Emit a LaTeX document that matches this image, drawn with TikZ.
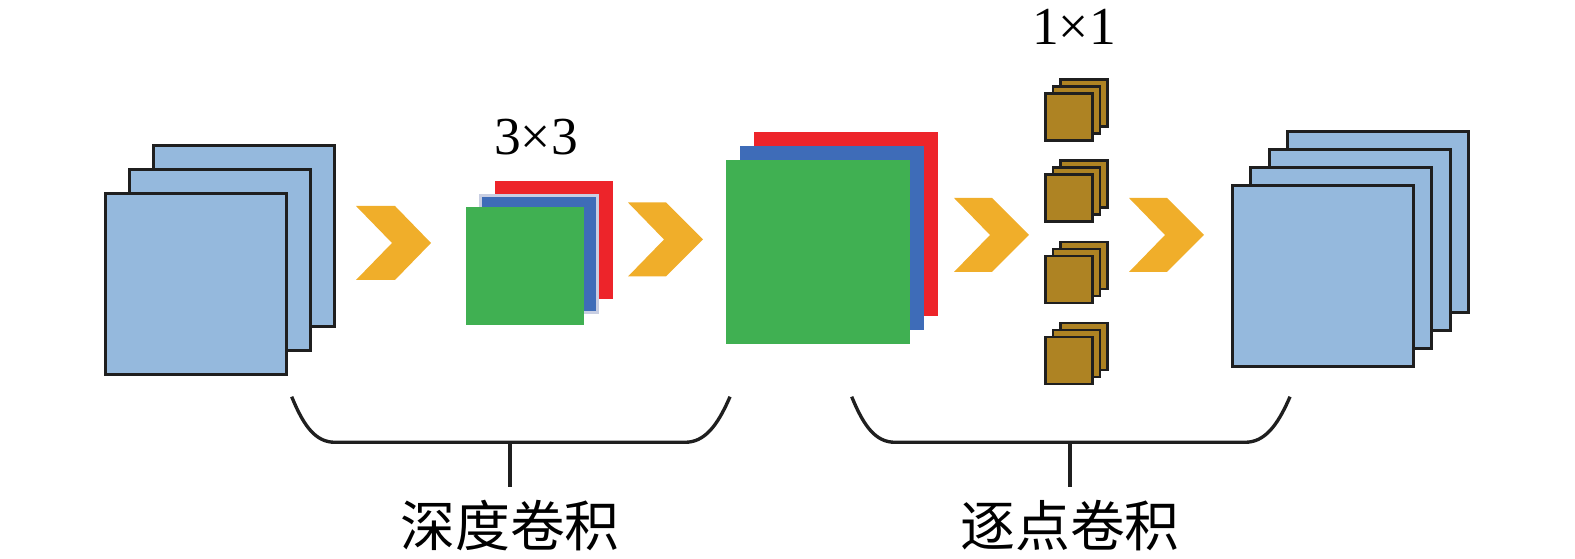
\documentclass[tikz,border=0pt]{standalone}
\usepackage{fontspec}
\setmainfont{Liberation Serif}
\newfontfamily\cjk{Noto Sans CJK SC}
\usepackage{tikz}
\definecolor{mapblue}{RGB}{149,185,221}
\definecolor{chred}{RGB}{237,36,42}
\definecolor{chblue}{RGB}{62,108,184}
\definecolor{chgreen}{RGB}{64,176,82}
\definecolor{kbrown}{RGB}{174,131,35}
\definecolor{chevron}{RGB}{240,174,42}

\begin{document}
\begin{tikzpicture}[x=0.01cm,y=-0.01cm,
  fmap/.style={rectangle,draw=black!88,line width=0.85pt,fill=mapblue,inner sep=0pt,minimum size=1.81cm},
  small/.style={rectangle,inner sep=0pt,minimum size=1.17cm},
  big/.style={rectangle,inner sep=0pt,minimum size=1.84cm},
  kern/.style={rectangle,draw=black!88,line width=0.8pt,fill=kbrown,inner sep=0pt,minimum size=0.47cm},
  chev/.style={fill=chevron},
  brace/.style={line width=0.95pt,black!88}]
\useasboundingbox (0,0) rectangle (1575,559);

% input feature maps
\node [fmap] (a3) at (244,236) {};
\node [fmap] (a2) at (220,260) {};
\node [fmap] (a1) at (196,284) {};

% 3x3 kernels
\node [small,fill=chred] (k3) at (554,240) {};
\node [small,fill=chblue,draw={rgb,255:red,200;green,206;blue,226},line width=0.6pt] (k2) at (539,254) {};
\node [small,fill=chgreen] (k1) at (525,266) {};
\node [font=\fontsize{15.2pt}{17pt}\selectfont] (kl) at (536,137) {3×3};

% depthwise output
\node [big,fill=chred] (m3) at (846,224) {};
\node [big,fill=chblue] (m2) at (832,238) {};
\node [big,fill=chgreen] (m1) at (818,252) {};

% 1x1 kernels
\node [kern] (p13) at (1084,103) {};
\node [kern] (p12) at (1076.5,110) {};
\node [kern] (p11) at (1069,117) {};
\node [kern] (p23) at (1084,184) {};
\node [kern] (p22) at (1076.5,191) {};
\node [kern] (p21) at (1069,198) {};
\node [kern] (p33) at (1084,265.5) {};
\node [kern] (p32) at (1076.5,272.5) {};
\node [kern] (p31) at (1069,279.5) {};
\node [kern] (p43) at (1084,346.5) {};
\node [kern] (p42) at (1076.5,353.5) {};
\node [kern] (p41) at (1069,360.5) {};
\node [font=\fontsize{15.2pt}{17pt}\selectfont] (pl) at (1074,27) {1×1};

% output feature maps
\node [fmap] (o4) at (1378,222) {};
\node [fmap] (o3) at (1360,240) {};
\node [fmap] (o2) at (1341,258) {};
\node [fmap] (o1) at (1323,276) {};

% arrows
\fill [chev] (356,206) -- ++(39,0) -- ++(36,37) -- ++(-36,37) -- ++(-39,0) -- ++(36,-37) -- cycle;
\fill [chev] (628,202.5) -- ++(38,0) -- ++(37,37) -- ++(-37,37) -- ++(-38,0) -- ++(36,-37) -- cycle;
\fill [chev] (954,198) -- ++(38,0) -- ++(37,37) -- ++(-37,37) -- ++(-38,0) -- ++(36,-37) -- cycle;
\fill [chev] (1129,198) -- ++(38,0) -- ++(37,37) -- ++(-37,37) -- ++(-38,0) -- ++(36,-37) -- cycle;

% braces
\draw [brace] (291.7,396.7) .. controls (304,427) and (316,442.3) .. (335,442.3)
  -- (685,442.3) .. controls (704,442.3) and (717,427) .. (730,396.7);
\coordinate (b1) at (510,442.3);
\node [anchor=north,inner sep=3.5pt,font=\cjk\fontsize{15.6pt}{18pt}\selectfont] (dw) at (510,487) {深度卷积};
\draw [brace] (b1) -- (dw);

\draw [brace] (851.7,396.7) .. controls (864,427) and (876,442.3) .. (895,442.3)
  -- (1245,442.3) .. controls (1264,442.3) and (1277,427) .. (1290,396.7);
\coordinate (b2) at (1070,442.3);
\node [anchor=north,inner sep=3.5pt,font=\cjk\fontsize{15.6pt}{18pt}\selectfont] (pw) at (1070,487) {逐点卷积};
\draw [brace] (b2) -- (pw);
\end{tikzpicture}
\end{document}
